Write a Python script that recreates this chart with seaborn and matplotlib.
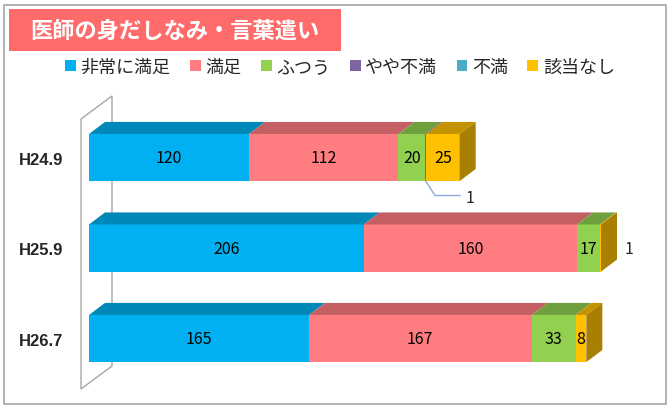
import numpy as np
import pandas as pd
import matplotlib
matplotlib.use("Agg")
import matplotlib.pyplot as plt
import matplotlib.colors as mcolors
from matplotlib.patches import Polygon, Rectangle, Patch
import seaborn as sns

# データ
periods = ["H24.9", "H25.9", "H26.7"]
levels = ["非常に満足", "満足", "ふつう", "やや不満", "不満", "該当なし"]
very_satisfied = [120, 206, 165]
satisfied = [112, 160, 167]
neutral = [20, 17, 33]
slightly_unsat = [1, 0, 0]
unsatisfied = [0, 0, 0]
not_applicable = [25, 1, 8]
title = "医師の身だしなみ・言葉遣い"

colors = ["#00B0F0", "#FF7C80", "#92D050", "#8064A2", "#4BACC6", "#FFC000"]

sns.set_style("white")
plt.rcParams['font.family'] = ['Noto Sans CJK JP', 'DejaVu Sans']

values = np.array([very_satisfied, satisfied, neutral, slightly_unsat,
                   unsatisfied, not_applicable], dtype=float)
cum = np.cumsum(values, axis=0)
starts = cum - values

W, H = 670, 410
fig = plt.figure(figsize=(W / 100, H / 100), dpi=100)

# 軸の位置 (ピクセル -> 比率)
xlim = (-10, 430)
px_per_unit = 512 / 384
ax_left = 89 - (0 - xlim[0]) * px_per_unit
ax_w = (xlim[1] - xlim[0]) * px_per_unit
ylim = (2.6, -0.7)
y0_px, step_px = 158.5, 90.5
ax_top = y0_px + ylim[1] * step_px
ax_bot = y0_px + ylim[0] * step_px
ax = fig.add_axes([ax_left / W, 1 - ax_bot / H, ax_w / W, (ax_bot - ax_top) / H])

bar_w = 0.52
dx, dy = 12, 0.133

# 奥の壁
wall = Polygon([(-6, 2.558), (-6, -0.425), (17.25, -0.68), (17.25, 2.304)],
               closed=True, facecolor="none", edgecolor="#A6A6A6", lw=1, zorder=0)
ax.add_patch(wall)

# 前面: 累積値を大きい順に重ねる
for k in range(len(levels) - 1, -1, -1):
    df = pd.DataFrame({"period": periods, "value": cum[k]})
    sns.barplot(data=df, x="value", y="period", color=colors[k], width=bar_w,
                saturation=1, linewidth=0, ax=ax, zorder=2)


def darker(c, f):
    r, g, b = mcolors.to_rgb(c)
    return (r * f, g * f, b * f)


# 上面と側面
for i in range(len(periods)):
    yt = i - bar_w / 2
    yb = i + bar_w / 2
    last = None
    for k in range(len(levels)):
        if values[k, i] <= 0:
            continue
        x0, x1 = starts[k, i], cum[k, i]
        top = Polygon([(x0, yt), (x1, yt), (x1 + dx, yt - dy), (x0 + dx, yt - dy)],
                      closed=True, facecolor=darker(colors[k], 0.77), lw=0, zorder=3)
        ax.add_patch(top)
        last = k
    xe = cum[-1, i]
    side = Polygon([(xe, yt), (xe, yb), (xe + dx, yb - dy), (xe + dx, yt - dy)],
                   closed=True, facecolor=darker(colors[last], 0.66), lw=0, zorder=3)
    ax.add_patch(side)

# 値ラベル
for i in range(len(periods)):
    for k in range(len(levels)):
        v = values[k, i]
        if v >= 5:
            ax.text((starts[k, i] + cum[k, i]) / 2, i, f"{int(v)}", ha="center",
                    va="center", fontsize=11.5, color="#000000", zorder=5)

# 小さい値 (1) のラベル
xm = (starts[3, 0] + cum[3, 0]) / 2
ax.plot([xm, xm + 7, xm + 26], [bar_w / 2, 0.42, 0.42], color="#8EA9DB",
        lw=1, zorder=5, clip_on=False)
ax.text(xm + 30, 0.44, f"{int(slightly_unsat[0])}", ha="left", va="center",
        fontsize=11.5, zorder=5)
ax.text(cum[-1, 1] + 18, 1.0, f"{int(not_applicable[1])}", ha="left",
        va="center", fontsize=11.5, zorder=5)

ax.set_xlim(*xlim)
ax.set_ylim(*ylim)
ax.set_xlabel("")
ax.set_ylabel("")
ax.set_xticks([])
ax.tick_params(axis="y", length=0, pad=9)
for lab in ax.get_yticklabels():
    lab.set_fontweight("bold")
    lab.set_fontsize(12)
    lab.set_family(["Liberation Sans", "DejaVu Sans"])
for s in ax.spines.values():
    s.set_visible(False)

# 外枠
fig.patches.append(Rectangle((4 / W, 5 / H), 662 / W, 399 / H, transform=fig.transFigure,
                             facecolor="none", edgecolor="#A6A6A6", lw=1.2))
# タイトル
fig.patches.append(Rectangle((9 / W, 1 - 52 / H), 332 / W, 42 / H, transform=fig.transFigure,
                             facecolor="#FF6B6B", edgecolor="none"))
fig.text(175 / W, 1 - 31 / H, title, ha="center", va="center", color="white",
         fontsize=16, fontweight="bold")

# 凡例
handles = [Patch(facecolor=c, edgecolor="none") for c in colors]
fig.legend(handles, levels, loc="center", bbox_to_anchor=(340 / W, 1 - 68 / H), ncol=6,
           frameon=False, handlelength=0.6, handleheight=0.6, handletextpad=0.25,
           columnspacing=1.08, fontsize=13)

fig.savefig("out.png", dpi=100)
